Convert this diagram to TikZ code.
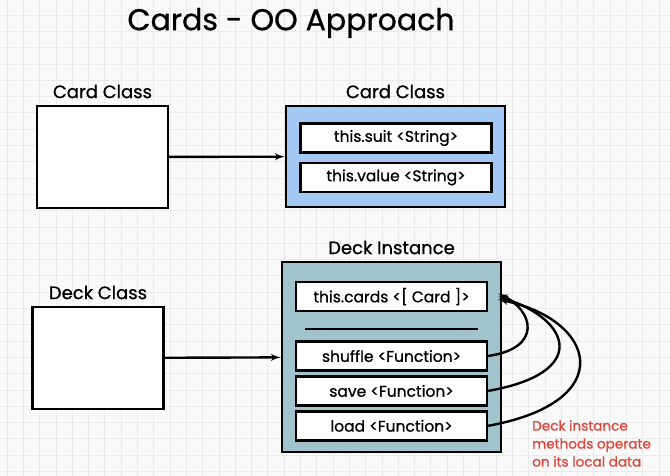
\documentclass[tikz,border=0pt]{standalone}
\usepackage{fontspec}
\setmainfont{Poppins}[FakeBold=0.8,AutoFakeBold=0.8]
\usetikzlibrary{arrows,positioning}
\definecolor{cardblue}{HTML}{A3C8F4}
\definecolor{deckteal}{HTML}{A1C3CC}
\definecolor{notered}{HTML}{E2453A}
\definecolor{gridgray}{HTML}{EAEAEA}

\begin{document}
\begin{tikzpicture}[x=1pt,y=-1pt,>=latex',
    box/.style={draw,line width=2.4pt,inner sep=0pt},
    classbox/.style={box,fill=white,minimum width=131pt,minimum height=102pt},
    field/.style={box,fill=white,minimum width=191pt,minimum height=29pt,font=\fontsize{15.5}{17}\selectfont},
    lbl/.style={font=\fontsize{18}{20}\selectfont},
    link/.style={->,line width=2.4pt}]

    % paper
    \useasboundingbox (0,0) rectangle (670,476);
    \fill[white!98!black] (0,0) rectangle (670,476);
    \foreach \i in {0,...,40} {
        \draw[gridgray,line width=0.7pt] (7+16.3*\i,0) -- (7+16.3*\i,476);
    }
    \foreach \j in {0,...,28} {
        \draw[gridgray,line width=0.7pt] (0,15+16.3*\j) -- (670,15+16.3*\j);
    }

    \node[font=\fontsize{30}{34}\selectfont] (title) at (291,23) {Cards - OO Approach};

    % card
    \node[classbox] (cardcls) at (102.5,157) {};
    \node[lbl,above=3pt of cardcls] {Card Class};
    \node[box,fill=cardblue,minimum width=219pt,minimum height=101pt] (cardobj) at (395.5,156.5) {};
    \node[lbl,above=3pt of cardobj] {Card Class};
    \node[field] (suit) at (396,138) {this.suit <String>};
    \node[field,below=8pt of suit] (value) {this.value <String>};
    \draw[link] (cardcls) -- (cardobj);

    % deck
    \node[classbox] (deckcls) at (98,358) {};
    \node[lbl,above=3pt of deckcls] {Deck Class};
    \node[box,fill=deckteal,minimum width=219pt,minimum height=190pt] (deckobj) at (391.5,357) {};
    \node[lbl,above=3pt of deckobj] {Deck Instance};
    \node[field] (cards) at (391.5,296.5) {this.cards <[ Card ]>};
    \node[field] (shuffle) at (391.5,356) {shuffle <Function>};
    \node[field,below=3.5pt of shuffle] (save) {save <Function>};
    \node[field,below=3.5pt of save] (load) {load <Function>};
    \draw[line width=1.2pt] (305,329) -- (478,329);
    \draw[link] (deckcls) -- (deckobj);

    % methods point back at the data
    \coordinate (tipA) at ([xshift=10pt,yshift=3pt]cards.east);
    \coordinate (tipB) at ([xshift=10pt]cards.east);
    \coordinate (tipC) at ([xshift=10pt,yshift=-3pt]cards.east);
    \draw[link] (shuffle.east) .. controls +(55,-8) and +(35,17) .. (tipA);
    \draw[link] (save.east) .. controls +(102,-18) and +(73,23) .. (tipB);
    \draw[link] (load.east) .. controls +(132,-24) and +(98,20) .. (tipC);

    \node[anchor=north west,align=left,inner sep=0pt,text=notered,
          font=\fontsize{13.6}{18}\selectfont] (note) at (532,420)
          {Deck instance\\methods operate\\on its local data};
\end{tikzpicture}
\end{document}
